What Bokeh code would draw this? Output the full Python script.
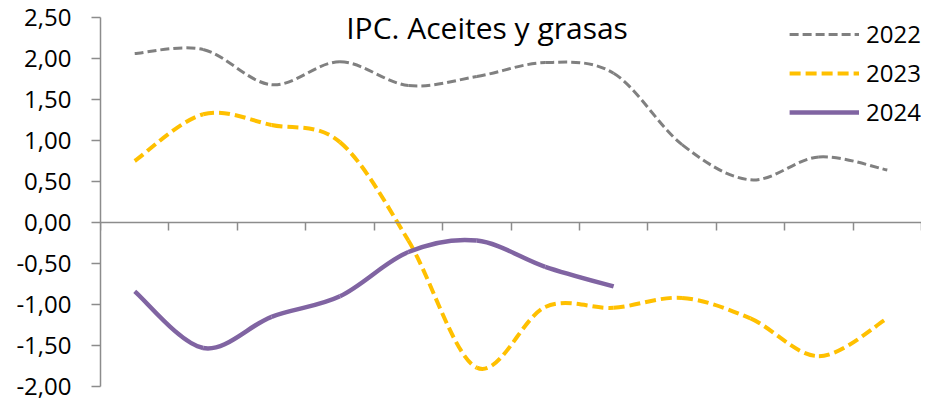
import numpy as np
from bokeh.plotting import figure
from bokeh.models import (Range1d, LinearAxis, FixedTicker, CustomJSTickFormatter,
                          Label, ColumnDataSource)
from bokeh.embed import file_html
from bokeh.resources import INLINE

# ---- data ----
months = ["ene", "feb", "mar", "abr", "may", "jun", "jul", "ago", "sep", "oct", "nov", "dic"]
v2022 = [2.06, 2.11, 1.68, 1.96, 1.67, 1.78, 1.95, 1.82, 0.95, 0.52, 0.80, 0.64]
v2023 = [0.75, 1.32, 1.19, 0.98, -0.22, -1.77, -1.03, -1.04, -0.92, -1.17, -1.63, -1.17]
v2024 = [-0.84, -1.53, -1.15, -0.90, -0.36, -0.22, -0.54, -0.78]
y_ticks = [-2.0, -1.5, -1.0, -0.5, 0.0, 0.5, 1.0, 1.5, 2.0, 2.5]
title_text = "IPC. Aceites y grasas"

FONT = "Open Sans"
AXIS_COLOR = "#8C8C8C"

p = figure(width=921, height=403, output_backend="svg", toolbar_location=None,
           x_range=Range1d(0, len(months)), y_range=Range1d(-2.0, 2.5),
           x_axis_type=None, y_axis_type=None,
           min_border_left=100, min_border_right=0, min_border_top=17, min_border_bottom=17)
p.outline_line_color = None
p.xgrid.visible = False
p.ygrid.visible = False
p.background_fill_color = "white"
p.border_fill_color = "white"


def smooth_source(vals):
    """Bezier segments (Catmull-Rom style, like Excel's smoothed line) through the points."""
    x = np.arange(len(vals)) + 0.5
    y = np.asarray(vals, dtype=float)
    n = len(y)
    xs = np.concatenate([[x[0]], x, [x[-1]]])
    ys = np.concatenate([[y[0]], y, [y[-1]]])
    d = dict(x0=[], y0=[], x1=[], y1=[], cx0=[], cy0=[], cx1=[], cy1=[])
    for i in range(n - 1):
        p0x, p0y = xs[i], ys[i]
        p1x, p1y = xs[i + 1], ys[i + 1]
        p2x, p2y = xs[i + 2], ys[i + 2]
        p3x, p3y = xs[i + 3], ys[i + 3]
        d["x0"].append(p1x); d["y0"].append(p1y)
        d["x1"].append(p2x); d["y1"].append(p2y)
        d["cx0"].append(p1x + (p2x - p0x) / 6.0); d["cy0"].append(p1y + (p2y - p0y) / 6.0)
        d["cx1"].append(p2x - (p3x - p1x) / 6.0); d["cy1"].append(p2y - (p3y - p1y) / 6.0)
    return ColumnDataSource(d)


series = [
    ("2022", v2022, "#808080", 3, "9 4"),
    ("2023", v2023, "#FFC000", 4, "11 5"),
    ("2024", v2024, "#8064A2", 4.5, "solid"),
]
for name, vals, color, lw, dash in series:
    p.bezier(x0="x0", y0="y0", x1="x1", y1="y1", cx0="cx0", cy0="cy0", cx1="cx1", cy1="cy1",
             source=smooth_source(vals), line_color=color, line_width=lw, line_dash=dash,
             legend_label=name)

# y axis
yaxis = LinearAxis(ticker=FixedTicker(ticks=y_ticks),
                   formatter=CustomJSTickFormatter(code="return tick.toFixed(2).replace('.', ',');"))
yaxis.axis_line_color = AXIS_COLOR
yaxis.axis_line_width = 1.5
yaxis.major_tick_line_color = AXIS_COLOR
yaxis.major_tick_line_width = 1.5
yaxis.major_tick_in = 0
yaxis.major_tick_out = 9
yaxis.minor_tick_line_color = None
yaxis.major_label_standoff = 20
yaxis.major_label_text_font = FONT
yaxis.major_label_text_font_size = "24px"
yaxis.major_label_text_color = "black"
p.add_layout(yaxis, "left")

# x axis (category boundaries), drawn at y = 0
xaxis = LinearAxis(ticker=FixedTicker(ticks=list(range(len(months) + 1))),
                   formatter=CustomJSTickFormatter(code="return '';"))
xaxis.fixed_location = 0
xaxis.axis_line_color = AXIS_COLOR
xaxis.axis_line_width = 1.5
xaxis.major_tick_line_color = AXIS_COLOR
xaxis.major_tick_line_width = 1.5
xaxis.major_tick_in = 0
xaxis.major_tick_out = 8
xaxis.minor_tick_line_color = None
xaxis.major_label_text_font_size = "1px"
xaxis.major_label_standoff = 0
p.add_layout(xaxis, "below")

# title inside the plot area
p.add_layout(Label(x=5.65, y=2.378, text=title_text, text_align="center",
                   text_baseline="alphabetic", text_font=FONT, text_font_size="30px",
                   text_color="black"))

leg = p.legend[0]
leg.location = "top_right"
leg.margin = 0
leg.padding = 3
leg.border_line_color = None
leg.background_fill_alpha = 0
leg.glyph_width = 70
leg.glyph_height = 30
leg.label_height = 30
leg.spacing = 6
leg.label_standoff = 7
leg.label_text_font = FONT
leg.label_text_font_size = "24px"
leg.label_text_color = "black"

open("out.html", "w").write(file_html(p, INLINE))
